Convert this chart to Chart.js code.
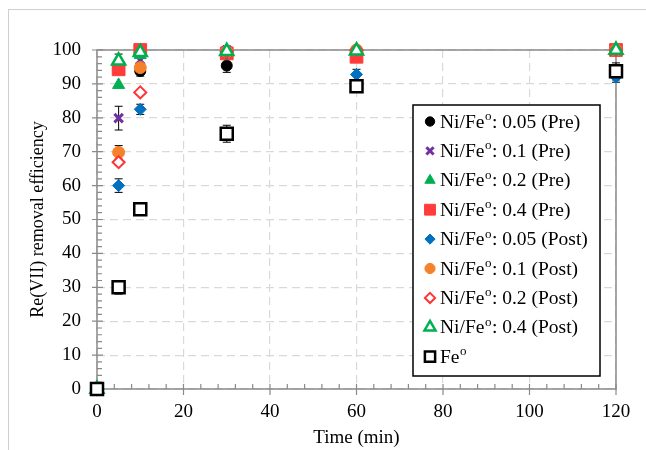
<!DOCTYPE html>
<html>
<head>
<meta charset="utf-8">
<script src="https://cdn.jsdelivr.net/npm/chart.js@4.4.0/dist/chart.umd.min.js"></script>
<style>
  html, body { margin: 0; padding: 0; background: #fff; }
  #wrap { width: 646px; height: 450px; }
</style>
</head>
<body>
<div id="wrap"><canvas id="reChart" width="646" height="450"></canvas></div>
<script>
// sampling times (min)
const times = [0, 5, 10, 30, 60, 120];

// removal efficiency (%)
const pre005 = [0, 94.5, 93.8, 95.4, 99.5, 100];
const pre01 = [0, 79.9, 97, 100, 100, 100];
const pre02 = [0, 89.7, 98.5, 100, 100, 100];
const pre04 = [0, 94.3, 100, 99, 98, 100];
const post005 = [0, 60, 82.5, 99, 92.8, 92];
const post01 = [0, 69.8, 94.8, 99.5, 100, 100];
const post02 = [0, 66.9, 87.5, 99.5, 100, 100];
const post04 = [0, 96.8, 99.3, 99.6, 99.8, 100];
const fe0 = [0, 30, 53, 75.3, 89.3, 93.7];

// error bars (+/-)
const pre005Err = [0, 0, 1.5, 2, 0, 0];
const pre01Err = [0, 3.5, 0, 0, 0, 0];
const pre02Err = [0, 0, 0, 0, 0, 0];
const pre04Err = [0, 0, 0, 0, 0, 0];
const post005Err = [0, 2, 1.5, 0, 1.5, 1.5];
const post01Err = [0, 2, 0, 0, 0, 0];
const post02Err = [0, 0, 0, 0, 0, 0];
const post04Err = [0, 2, 0, 0, 0, 0];
const fe0Err = [0, 2, 0, 2.5, 0, 2.5];

// the "o" after Fe is drawn as a superscript
const seriesLabels = [
    'Ni/Fe\u2070: 0.05 (Pre)', 'Ni/Fe\u2070: 0.1 (Pre)', 'Ni/Fe\u2070: 0.2 (Pre)', 'Ni/Fe\u2070: 0.4 (Pre)',
    'Ni/Fe\u2070: 0.05 (Post)', 'Ni/Fe\u2070: 0.1 (Post)', 'Ni/Fe\u2070: 0.2 (Post)', 'Ni/Fe\u2070: 0.4 (Post)',
    'Fe\u2070'
];

const xTicks = [0, 20, 40, 60, 80, 100, 120];
const yTicks = [0, 10, 20, 30, 40, 50, 60, 70, 80, 90, 100];

const serif = "'Liberation Serif', 'Times New Roman', serif";
const axisGray = '#8a8a8a';

function pts(values) {
    return values.map((v, i) => ({ x: times[i], y: v }));
}

// marker styles, in legend order
const styles = [
    { pointStyle: 'circle', radius: 5.5, bg: '#000000', border: '#000000', bw: 1 },
    { pointStyle: 'crossRot', radius: 6, bg: '#7030a0', border: '#7030a0', bw: 3 },
    { pointStyle: 'triangle', radius: 7, bg: '#00b050', border: '#00b050', bw: 1 },
    { pointStyle: 'rect', radius: 9, bg: '#ff3b3b', border: '#ff3b3b', bw: 1 },
    { pointStyle: 'rectRot', radius: 6, bg: '#0070c0', border: '#0070c0', bw: 1 },
    { pointStyle: 'circle', radius: 6, bg: '#f5822a', border: '#f5822a', bw: 1 },
    { pointStyle: 'rectRot', radius: 6, bg: '#ffffff', border: '#ff3333', bw: 2 },
    { pointStyle: 'triangle', radius: 7.5, bg: '#ffffff', border: '#00b050', bw: 2.5 },
    { pointStyle: 'rect', radius: 8.5, bg: '#ffffff', border: '#000000', bw: 2.5 }
];

const allValues = [pre005, pre01, pre02, pre04, post005, post01, post02, post04, fe0];
const allErrors = [pre005Err, pre01Err, pre02Err, pre04Err, post005Err, post01Err, post02Err, post04Err, fe0Err];

const datasets = allValues.map((vals, i) => ({
    label: seriesLabels[i],
    data: pts(vals),
    errors: allErrors[i],
    showLine: false,
    pointStyle: styles[i].pointStyle,
    pointRadius: styles[i].radius,
    pointBackgroundColor: styles[i].bg,
    pointBorderColor: styles[i].border,
    pointBorderWidth: styles[i].bw,
    clip: false,
    // later series sit on top, as in the original figure
    order: allValues.length - i
}));

// fallback marker drawing if Chart.helpers is not exposed
function drawMarker(c, st, r, x, y) {
    if (Chart.helpers && Chart.helpers.drawPoint) {
        Chart.helpers.drawPoint(c, { pointStyle: st.pointStyle, radius: r, borderWidth: st.bw }, x, y);
        return;
    }
    c.beginPath();
    if (st.pointStyle === 'circle') {
        c.arc(x, y, r, 0, Math.PI * 2);
    } else if (st.pointStyle === 'rect') {
        const s = r * Math.SQRT1_2;
        c.rect(x - s, y - s, 2 * s, 2 * s);
    } else if (st.pointStyle === 'rectRot') {
        c.moveTo(x, y - r); c.lineTo(x + r, y); c.lineTo(x, y + r); c.lineTo(x - r, y); c.closePath();
    } else if (st.pointStyle === 'triangle') {
        c.moveTo(x, y - r); c.lineTo(x + r * 0.866, y + r * 0.5); c.lineTo(x - r * 0.866, y + r * 0.5); c.closePath();
    } else if (st.pointStyle === 'crossRot') {
        const s = r * Math.SQRT1_2;
        c.moveTo(x - s, y - s); c.lineTo(x + s, y + s);
        c.moveTo(x + s, y - s); c.lineTo(x - s, y + s);
        c.stroke();
        return;
    }
    c.fill();
    c.stroke();
}

// draws "Ni/Fe" + raised small "o" + rest of the label
function drawLabel(c, label, x, y) {
    const parts = label.split('\u2070');
    c.font = '19.5px ' + serif;
    c.fillText(parts[0], x, y);
    let cx = x + c.measureText(parts[0]).width;
    c.font = '13px ' + serif;
    c.fillText('o', cx + 0.5, y - 6);
    cx += c.measureText('o').width + 1;
    c.font = '19.5px ' + serif;
    if (parts[1]) c.fillText(parts[1], cx, y);
}

// frame, axis border, tick marks, error bars and the boxed legend
const decorPlugin = {
    id: 'decor',
    beforeDraw(chart) {
        const c = chart.ctx;
        c.save();
        c.strokeStyle = '#cfcfcf';
        c.lineWidth = 1;
        c.strokeRect(8.5, 9.5, 700, 500);
        c.restore();
    },
    beforeDatasetsDraw(chart) {
        const c = chart.ctx;
        const xs = chart.scales.x, ys = chart.scales.y;
        const a = chart.chartArea;
        c.save();
        c.strokeStyle = axisGray;
        c.lineWidth = 1.5;
        c.strokeRect(a.left, a.top, a.right - a.left, a.bottom - a.top);
        c.lineWidth = 1.2;
        c.beginPath();
        // y ticks: major every 10, minor every 2
        for (let v = 0; v <= 100; v += 2) {
            const y = ys.getPixelForValue(v);
            if (v % 10 === 0) {
                c.moveTo(a.left - 5, y); c.lineTo(a.left + 6, y);
            } else {
                c.moveTo(a.left, y); c.lineTo(a.left + 5, y);
            }
        }
        // x ticks: major every 20, minor every 4
        for (let v = 0; v <= 120; v += 4) {
            const x = xs.getPixelForValue(v);
            if (v % 20 === 0) {
                c.moveTo(x, a.bottom + 6); c.lineTo(x, a.bottom - 5);
            } else {
                c.moveTo(x, a.bottom); c.lineTo(x, a.bottom - 5);
            }
        }
        c.stroke();

        // error bars
        c.strokeStyle = '#000';
        c.lineWidth = 1;
        chart.data.datasets.forEach(ds => {
            ds.data.forEach((p, i) => {
                const e = ds.errors[i];
                if (!e) return;
                const x = xs.getPixelForValue(p.x);
                const y1 = ys.getPixelForValue(p.y + e);
                const y2 = ys.getPixelForValue(p.y - e);
                c.beginPath();
                c.moveTo(x, y1); c.lineTo(x, y2);
                c.moveTo(x - 4, y1); c.lineTo(x + 4, y1);
                c.moveTo(x - 4, y2); c.lineTo(x + 4, y2);
                c.stroke();
            });
        });
        c.restore();
    },
    afterDraw(chart) {
        const c = chart.ctx;
        const box = { left: 413, top: 105, right: 600, bottom: 376 };
        c.save();
        c.fillStyle = '#fff';
        c.fillRect(box.left, box.top, box.right - box.left, box.bottom - box.top);
        c.strokeStyle = '#000';
        c.lineWidth = 1.5;
        c.strokeRect(box.left, box.top, box.right - box.left, box.bottom - box.top);
        c.textBaseline = 'middle';
        const rowH = 29.4;
        chart.data.datasets.forEach((ds, i) => {
            const y = 121.5 + i * rowH;
            const st = styles[i];
            c.fillStyle = st.bg;
            c.strokeStyle = st.border;
            c.lineWidth = st.bw;
            drawMarker(c, st, st.radius * 0.85, 430, y);
            c.fillStyle = '#000';
            drawLabel(c, ds.label, 440, y + 1);
        });
        c.restore();
    }
};

const ctx = document.getElementById('reChart').getContext('2d');
const chart = new Chart(ctx, {
    type: 'scatter',
    data: { datasets: datasets },
    plugins: [decorPlugin],
    options: {
        responsive: false,
        animation: false,
        events: [],
        layout: { padding: { top: 50, right: 30, left: 0, bottom: 0 } },
        plugins: {
            legend: { display: false },
            tooltip: { enabled: false }
        },
        scales: {
            x: {
                type: 'linear',
                min: 0,
                max: 120,
                afterBuildTicks: s => { s.ticks = xTicks.map(v => ({ value: v })); },
                afterFit: s => { s.height = 61; },
                border: { display: false, dash: [8, 5] },
                grid: { color: '#d9d9d9', lineWidth: 1.2, drawTicks: false },
                ticks: { color: '#000', padding: 12, font: { family: serif, size: 19 } },
                title: { display: true, text: 'Time (min)', color: '#000', font: { family: serif, size: 19 }, padding: { top: 0, bottom: 1 } }
            },
            y: {
                type: 'linear',
                min: 0,
                max: 100,
                afterBuildTicks: s => { s.ticks = yTicks.map(v => ({ value: v })); },
                afterFit: s => { s.width = 97; },
                border: { display: false, dash: [8, 5] },
                grid: { color: '#d9d9d9', lineWidth: 1.2, drawTicks: false },
                ticks: { color: '#000', padding: 16, font: { family: serif, size: 19 } },
                title: { display: true, text: 'Re(VII) removal efficiency', color: '#000', font: { family: serif, size: 18 }, padding: { top: 27, bottom: 0 } }
            }
        }
    }
});
</script>
</body>
</html>
